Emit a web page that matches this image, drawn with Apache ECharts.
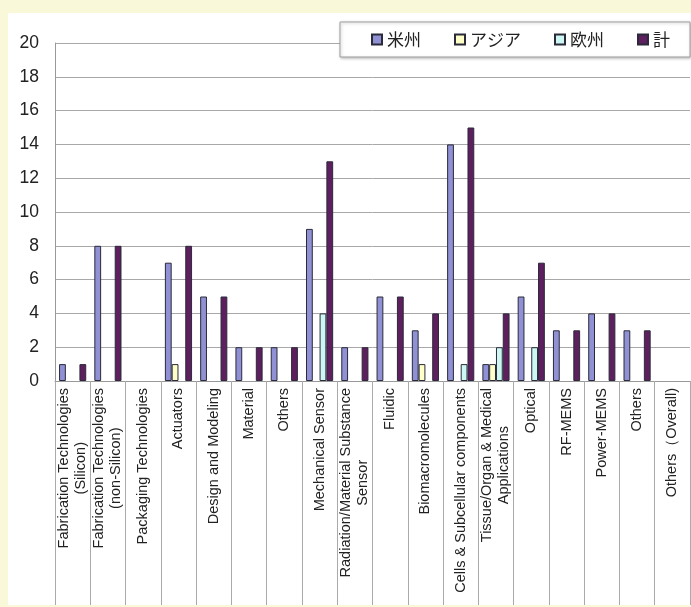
<!DOCTYPE html>
<html><head><meta charset="utf-8">
<script src="https://cdn.jsdelivr.net/npm/echarts@6/dist/echarts.min.js"></script>
<style>html,body{margin:0;padding:0;background:#F9F9DA}#c{width:691px;height:607px}</style>
</head><body><div id="c"></div>
<script>
const categories = [
  "Fabrication Technologies\n(Silicon)",
  "Fabrication Technologies\n(non-Silicon)",
  "Packaging Technologies",
  "Actuators",
  "Design and Modeling",
  "Material",
  "Others",
  "Mechanical Sensor",
  "Radiation/Material Substance\nSensor",
  "Fluidic",
  "Biomacromolecules",
  "Cells & Subcellular components",
  "Tissue/Organ & Medical\nApplications",
  "Optical",
  "RF-MEMS",
  "Power-MEMS",
  "Others",
  "Others（Overall)"
];
const seriesNames = ["米州", "アジア", "欧州", "計"];
const americas = [1, 8, 0, 7, 5, 2, 2, 9, 2, 5, 3, 14, 1, 5, 3, 4, 3, 0];
const asia     = [0, 0, 0, 1, 0, 0, 0, 0, 0, 0, 1, 0, 1, 0, 0, 0, 0, 0];
const europe   = [0, 0, 0, 0, 0, 0, 0, 4, 0, 0, 0, 1, 2, 2, 0, 0, 0, 0];
const total    = [1, 8, 0, 8, 5, 2, 2, 13, 2, 5, 4, 15, 4, 7, 3, 4, 3, 0];
const yMin = 0, yMax = 20, yStep = 2;

const colors = ["#8F91D4", "#FFFFC8", "#CCF7F2", "#5E1F5E"];
const values = [americas, asia, europe, total];
const chart = echarts.init(document.getElementById('c'));
const font = "'Liberation Sans', Arial, sans-serif";
chart.setOption({
  backgroundColor: '#F9F9DA',
  animation: false,
  graphic: {elements: [{type: 'rect', z: -100, shape: {x: 8, y: 13, width: 683, height: 592}, style: {fill: '#ffffff'}, silent: true}]},
  grid: {left: 55, top: 43, right: 1, bottom: 226, containLabel: false, outerBoundsMode: 'none'},
  legend: {
    data: seriesNames, left: 340, top: 22, itemWidth: 10, itemHeight: 10, itemGap: 33,
    padding: [9, 20, 9, 31], backgroundColor: '#fff', borderColor: '#a0a0a0', borderWidth: 1,
    shadowColor: 'rgba(0,0,0,0.25)', shadowBlur: 3, shadowOffsetX: 1, shadowOffsetY: 1,
    icon: 'rect',
    textStyle: {fontSize: 17, fontFamily: "'Noto Sans CJK JP', sans-serif", color: '#222'}
  },
  xAxis: {
    type: 'category', data: categories,
    axisLine: {lineStyle: {color: '#999', width: 1}},
    axisTick: {show: true, interval: 0, length: 224, lineStyle: {color: '#aaa'}},
    axisLabel: {
      interval: 0, rotate: 90, margin: 7, color: '#222',
      formatter: v => v.split('\n').map(s => '{c|' + s + '}').join('\n'),
      rich: {c: {align: 'center', fontSize: 14.5, lineHeight: 17, fontFamily: font, color: '#222'}}
    }
  },
  yAxis: {
    type: 'value', min: yMin, max: yMax, interval: yStep,
    axisLine: {show: true, lineStyle: {color: '#999'}},
    axisTick: {show: false},
    axisLabel: {fontSize: 17.5, fontFamily: font, color: '#222', margin: 16},
    splitLine: {lineStyle: {color: '#a8a8a8', width: 1}}
  },
  series: seriesNames.map((n, i) => ({
    name: n, type: 'bar', barGap: '0%', barCategoryGap: '23%',
    data: values[i].map(v => v === 0 ? '-' : v),
    itemStyle: {color: colors[i], borderColor: '#2a2a3a', borderWidth: 1}
  }))
});
</script></body></html>
